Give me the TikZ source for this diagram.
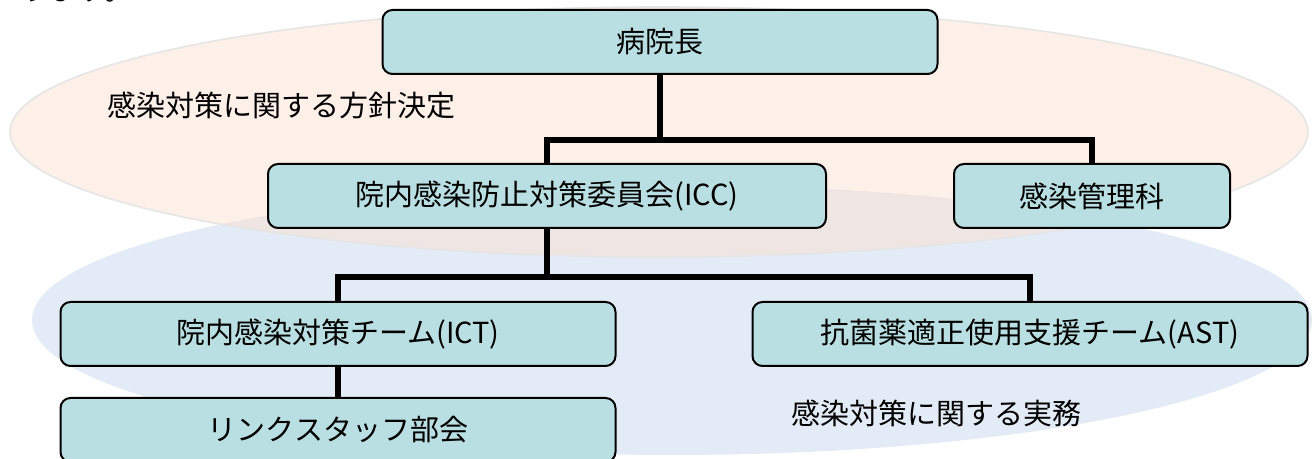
\documentclass[tikz,border=0pt]{standalone}
\usepackage{fontspec}
\setmainfont{Noto Sans CJK JP}
\usepackage{tikz}

\definecolor{boxfill}{HTML}{B9DFE2}
\definecolor{policy}{HTML}{FBE1D1}
\definecolor{practice}{HTML}{E3ECF6}

\begin{document}
\begin{tikzpicture}[x=0.5pt,y=-0.5pt,
        orgbox/.style={draw=black,line width=1pt,fill=boxfill,rounded corners=5pt,
            minimum width=277.5pt,minimum height=32pt,inner sep=0pt,
            font=\fontsize{14.5pt}{17pt}\selectfont},
        conn/.style={line width=2.6pt,line join=miter},
        area/.style={anchor=west,inner sep=0pt,font=\fontsize{14.5pt}{17pt}\selectfont}]
    \useasboundingbox (0,0) rectangle (1312,459);
    \begin{scope}
        \clip (0,0) rectangle (1312,459);
        \fill[practice] (672,320) ellipse [x radius=320pt,y radius=67.5pt];
        \fill[policy,fill opacity=0.5] (659,132) ellipse [x radius=324.5pt,y radius=62.5pt];
        \draw[black!10,line width=0.8pt] (659,132) ellipse [x radius=324.5pt,y radius=62.5pt];
        \node[anchor=base west,inner sep=0pt,font=\fontsize{14.5pt}{17pt}\selectfont] (prev) at (20,1) {ります。};
    \end{scope}
    \node[area] (policytext) at (107,105) {感染対策に関する方針決定};
    \node[area] (practicetext) at (791,413) {感染対策に関する実務};

    \node[orgbox] (head) at (660,42) {病院長};
    \node[orgbox,minimum width=279pt] (icc) at (547,196) {院内感染防止対策委員会(ICC)};
    \node[orgbox,minimum width=138pt] (kanri) at (1092,196) {感染管理科};
    \node[orgbox] (ict) at (338,334) {院内感染対策チーム(ICT)};
    \node[orgbox] (ast) at (1030,334) {抗菌薬適正使用支援チーム(AST)};
    \node[orgbox] (link) at (338,430) {リンクスタッフ部会};

    \coordinate (j1) at (660,140);
    \coordinate (j2) at (547,277);
    \draw[conn] (head.south) -- (j1);
    \draw[conn] (icc.north) |- (j1) -| (kanri.north);
    \draw[conn] (icc.south) -- (j2);
    \draw[conn] (ict.north) |- (j2) -| (ast.north);
    \draw[conn] (ict.south) -- (link.north);
\end{tikzpicture}
\end{document}
